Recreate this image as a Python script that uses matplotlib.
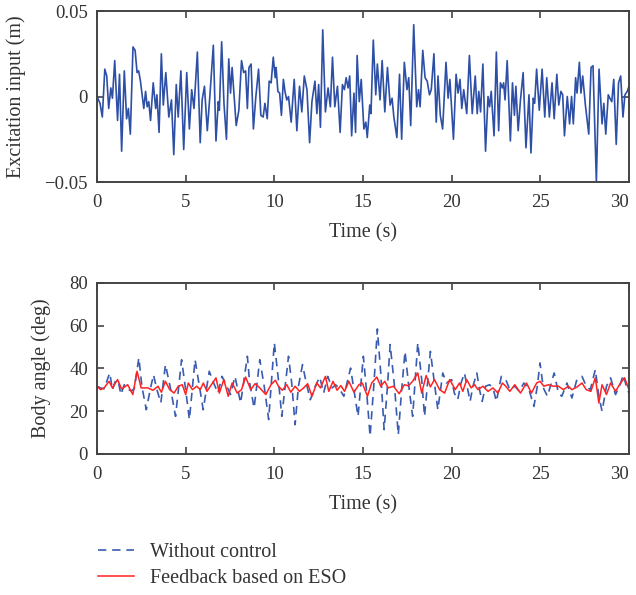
import numpy as np
import matplotlib
matplotlib.use('Agg')
import matplotlib.pyplot as plt

# excitation input (time s, displacement m)
exc_t = [0, 0.17, 0.3, 0.44, 0.55, 0.66, 0.78, 0.87, 1.0, 1.16, 1.27, 1.39, 1.54, 1.67, 1.77, 1.88,
         2.03, 2.15, 2.26, 2.35, 2.45, 2.64, 2.74, 2.83, 2.92, 3.02, 3.17, 3.31, 3.38, 3.5, 3.63, 3.74,
         3.88, 4.05, 4.2, 4.33, 4.47, 4.58, 4.73, 4.89, 5.06, 5.21, 5.34, 5.47, 5.66, 5.82, 5.93, 6.06,
         6.22, 6.37, 6.56, 6.71, 6.84, 6.9, 7.03, 7.16, 7.3, 7.43, 7.53, 7.62, 7.85, 8.0, 8.15, 8.27,
         8.38, 8.48, 8.57, 8.69, 8.82, 8.95, 9.11, 9.24, 9.37, 9.47, 9.6, 9.71, 9.82, 9.94, 10.05,
         10.1, 10.2, 10.3, 10.4, 10.51, 10.6, 10.7, 10.8, 10.95, 11.12, 11.27, 11.42, 11.55, 11.69,
         11.84, 11.99, 12.12, 12.29, 12.4, 12.5, 12.6, 12.73, 12.88, 13.03, 13.16, 13.28, 13.41, 13.56,
         13.71, 13.84, 13.95, 14.05, 14.16, 14.25, 14.36, 14.49, 14.58, 14.67, 14.79, 14.9, 15.05, 15.16,
         15.24, 15.38, 15.45, 15.58, 15.72, 15.81, 15.96, 16.08, 16.23, 16.38, 16.53, 16.64, 16.74,
         16.91, 17.06, 17.18, 17.33, 17.48, 17.58, 17.69, 17.86, 18.03, 18.13, 18.22, 18.37, 18.5,
         18.62, 18.75, 18.85, 19.0, 19.13, 19.23, 19.36, 19.49, 19.68, 19.8, 19.9, 20.1, 20.25, 20.36,
         20.47, 20.57, 20.68, 20.85, 21.0, 21.16, 21.33, 21.44, 21.53, 21.63, 21.76, 21.91, 22.05,
         22.14, 22.23, 22.39, 22.52, 22.65, 22.75, 22.86, 22.93, 23.01, 23.13, 23.31, 23.43, 23.54,
         23.62, 23.75, 23.88, 24.03, 24.19, 24.36, 24.47, 24.6, 24.68, 24.79, 24.94, 25.1, 25.25,
         25.36, 25.51, 25.66, 25.78, 25.93, 26.04, 26.16, 26.26, 26.36, 26.52, 26.65, 26.76, 26.86,
         26.99, 27.07, 27.2, 27.29, 27.39, 27.54, 27.73, 27.86, 27.97, 28.16, 28.31, 28.48, 28.58,
         28.69, 28.83, 28.92, 29.03, 29.14, 29.28, 29.41, 29.53, 29.66, 29.77, 29.9, 30.0]
exc_y = [0.0, -0.004, -0.012, 0.016, 0.012, -0.007, 0.005, -0.001, 0.021, -0.014, 0.013, -0.032,
         0.015, -0.013, -0.007, -0.022, 0.029, 0.027, 0.014, 0.015, 0.009, -0.007, 0.003, -0.006,
         -0.003, -0.014, 0.008, -0.007, 0.001, -0.021, 0.025, -0.005, 0.014, -0.012, -0.002, -0.034,
         0.007, -0.012, 0.015, -0.031, 0.014, -0.019, 0.004, -0.007, 0.026, -0.027, -0.002, 0.006,
         -0.02, 0.001, 0.03, -0.026, -0.003, -0.008, 0.032, -0.004, -0.025, 0.022, 0.002, 0.017,
         -0.017, -0.008, 0.021, 0.014, 0.015, -0.007, 0.017, 0.019, -0.019, -0.001, 0.016, -0.011,
         -0.012, -0.004, -0.013, 0.009, 0.008, 0.023, 0.011,
         0.017, 0.003, 0.002, -0.011, 0.01, 0.003, -0.002, 0.0, -0.015, 0.01, -0.02, 0.006, -0.009,
         0.012, 0.004, -0.027, -0.003, 0.009, -0.01, 0.007, -0.018, 0.039, -0.009, 0.005, -0.006,
         0.023, -0.006, 0.006, -0.021, 0.007, 0.004, 0.011, 0.005, 0.012, -0.023, 0.002, -0.021,
         0.024, -0.003, 0.01, -0.019, -0.015, -0.024, -0.005, -0.01, 0.033, 0.001, 0.019, -0.002,
         0.021, -0.009, 0.017, -0.005, -0.001, -0.012, -0.024, 0.013, -0.025, 0.02, 0.004, 0.011,
         -0.017, 0.042, -0.006, 0.004, -0.006, 0.027, 0.011, 0.009, 0.001, 0.004, 0.025, -0.015,
         0.012, -0.011, -0.019, 0.02, -0.001, 0.01, -0.025, 0.013, 0.002, 0.01, -0.007, 0.004, -0.01,
         0.024, -0.01, 0.012, -0.01, 0.003, -0.009, 0.019, -0.032, 0.0, -0.006, 0.003, -0.023, 0.026,
         -0.02, 0.008, 0.005, 0.008, -0.002, 0.021, -0.026, 0.008, -0.011, 0.006, -0.02, -0.002,
         0.014, -0.03, 0.001, -0.033, -0.001, -0.004, 0.016, -0.008, 0.016, -0.012, 0.011, -0.012,
         0.008, -0.013, 0.013, -0.005, 0.003, 0.001, -0.023, 0.0, -0.016, 0.0, -0.016, 0.011, 0.002,
         0.02, 0.002, 0.012, -0.005, -0.022, 0.017, 0.018, -0.05, 0.016, -0.016, -0.004, -0.022,
         0.001, -0.001, -0.003, 0.01, -0.028, 0.008, 0.012, -0.012, 0.001, 0.003, 0.006]

# body angle without control (deg)
nc_t = [0, 0.2, 0.4, 0.72, 0.87, 1.05, 1.2, 1.35, 1.54, 1.75, 1.93, 2.1, 2.36, 2.53, 2.78, 3.02,
        3.19, 3.35, 3.6, 3.86, 4.16, 4.43, 4.77, 5.0, 5.21, 5.53, 5.76, 5.99, 6.33, 6.58, 6.82, 7.05,
        7.28, 7.53, 7.78, 8.1, 8.48, 8.61, 8.86, 9.18, 9.43, 9.68, 10.0, 10.23, 10.42, 10.61, 10.8,
        10.98, 11.17, 11.36, 11.59, 11.8, 12.03, 12.31, 12.56, 12.78, 13.01, 13.26, 13.45, 13.64,
        13.92, 14.3, 14.49, 14.72, 15.02, 15.21, 15.4, 15.62, 15.81, 16.0, 16.19, 16.38, 16.53,
        16.76, 16.99, 17.18, 17.37, 17.56, 17.8, 18.09, 18.31, 18.47, 18.8, 19.03, 19.22, 19.5,
        19.7, 20.0, 20.15, 20.34, 20.53, 20.72, 20.91, 21.04, 21.2, 21.42, 21.57, 21.72, 21.91,
        22.14, 22.33, 22.52, 22.8, 23.05, 23.28, 23.56, 23.81, 24.07, 24.33, 24.64, 24.83, 24.98,
        25.17, 25.4, 25.78, 26.02, 26.21, 26.5, 26.78, 27.06, 27.35, 27.59, 27.82, 28.1, 28.3,
        28.48, 28.73, 28.96, 29.24, 29.5, 29.68, 29.9, 30.0]
nc_y = [31.7, 30.9, 30.5, 37.9, 30.0, 34.5, 34.0, 27.8, 32.4, 30.3, 29.5, 30.5, 45.0, 31.7,
        20.7, 30.9, 37.1, 30.9, 23.9, 41.8, 30.1, 17.6, 44.1, 30.1, 16.1, 44.1, 32.4, 20.7, 38.7,
        33.2, 28.5, 36.3, 32.4, 27.8, 36.3, 23.9, 45.7, 33.2, 21.5, 44.1, 31.7, 16.1, 52.0, 34.8,
        17.6, 31.7, 45.7, 33.2, 13.7, 31.7, 41.8, 33.2, 25.4, 31.7, 36.0, 28.5, 36.3, 30.9, 32.4,
        30.9, 27.0, 40.2, 30.1, 17.6, 45.7, 28.5, 8.3, 33.2, 58.5, 37.9, 11.4, 31.7, 51.2, 33.2,
        9.0, 30.1, 48.0, 33.2, 17.6, 52.0, 34.8, 17.6, 48.0, 33.2, 20.7, 37.9, 33.2, 34.8, 28.5,
        25.4, 33.2, 37.9, 30.1, 24.6, 31.7, 37.9, 30.1, 24.6, 31.7, 32.4, 30.9, 24.6, 36.3, 34.8,
        30.1, 31.7, 29.3, 33.2, 30.9, 22.3, 31.7, 42.6, 30.9, 27.0, 37.9, 28.5, 27.0, 33.2, 26.2,
        34.8, 36.3, 31.7, 30.1, 39.5, 27.0, 20.0, 31.7, 35.6, 27.8, 32.4, 37.1, 30.1, 28.5]

# body angle with ESO based feedback (deg)
fb_t = [0, 0.2, 0.4, 0.68, 0.87, 1.16, 1.39, 1.73, 2.02, 2.26, 2.49, 2.87, 3.16, 3.44, 3.63, 3.86,
        4.1, 4.35, 4.58, 4.81, 5.0, 5.15, 5.38, 5.63, 5.82, 6.0, 6.2, 6.45, 6.71, 6.9, 7.15, 7.4,
        7.62, 7.91, 8.15, 8.38, 8.67, 8.92, 9.18, 9.52, 9.81, 10.06, 10.23, 10.45, 10.7, 10.93,
        11.17, 11.42, 11.65, 11.88, 12.12, 12.4, 12.6, 12.88, 13.07, 13.31, 13.54, 13.75, 13.96,
        14.2, 14.49, 14.77, 14.96, 15.25, 15.49, 15.78, 16.0, 16.23, 16.42, 16.72, 17.04, 17.33,
        17.56, 17.8, 18.09, 18.31, 18.56, 18.8, 19.03, 19.32, 19.6, 19.89, 20.2, 20.44, 20.63,
        20.85, 21.1, 21.3, 21.48, 21.76, 22.05, 22.33, 22.61, 22.86, 23.05, 23.28, 23.56, 23.88,
        24.22, 24.5, 24.79, 24.98, 25.2, 25.45, 25.73, 26.02, 26.3, 26.58, 26.78, 27.06, 27.35,
        27.59, 27.85, 28.1, 28.3, 28.48, 28.73, 28.96, 29.24, 29.52, 29.75, 30.0]
fb_y = [31.7, 30.1, 30.9, 34.0, 30.9, 34.8, 30.4, 32.4, 27.8, 38.7, 30.9, 30.9, 29.8, 31.7,
        28.9, 34.0, 30.1, 28.5, 31.7, 32.4, 27.8, 33.2, 30.1, 31.7, 30.1, 33.2, 29.3, 32.4, 35.6,
        28.5, 34.8, 27.0, 33.2, 28.5, 30.1, 36.0, 30.1, 32.9, 30.9, 27.8, 32.4, 34.5, 31.7, 29.8,
        32.4, 28.9, 31.7, 29.3, 30.9, 32.9, 27.0, 33.2, 30.9, 36.3, 29.3, 34.0, 29.8, 32.0, 29.3,
        34.0, 28.9, 32.4, 33.2, 27.0, 33.2, 36.0, 31.7, 34.0, 30.9, 31.7, 28.2, 32.4, 31.9, 34.0,
        37.9, 28.5, 36.7, 31.4, 34.8, 30.1, 28.5, 34.8, 30.1, 33.2, 29.3, 34.8, 30.9, 32.4, 30.1,
        31.7, 29.3, 30.9, 28.5, 33.2, 31.7, 29.3, 32.4, 28.5, 33.2, 28.5, 33.2, 34.0, 31.7, 32.4,
        31.7, 31.7, 30.1, 31.7, 30.1, 31.3, 33.2, 30.1, 29.3, 35.6, 23.9, 32.4, 27.8, 33.2, 29.3,
        33.2, 35.6, 30.1]

plt.rcParams['font.family'] = ['Liberation Serif', 'DejaVu Serif']
txt = '#333333'
frame = '#444444'

fig = plt.figure(figsize=(6.36, 5.95), dpi=100)
ax1 = fig.add_axes([0.1525, 0.6941, 0.8365, 0.2874])
ax2 = fig.add_axes([0.1525, 0.2370, 0.8365, 0.2874])

ax1.plot(exc_t, exc_y, color='#2d4fa6', lw=1.2)
ax1.set_xlim(0, 30)
ax1.set_ylim(-0.05, 0.05)
ax1.set_xticks([0, 5, 10, 15, 20, 25, 30])
ax1.set_yticks([-0.05, 0, 0.05])
ax1.set_yticklabels(['\u22120.05', '0', '0.05'])
ax1.set_xlabel('Time (s)', color=txt, fontsize=14.5, labelpad=9)
ax1.set_ylabel('Excitation input (m)', color=txt, fontsize=14.5, labelpad=13)

ax2.plot(nc_t, nc_y, color='#3a5cb0', lw=1.2, ls=(0, (5, 3.5)), label='Without control')
ax2.plot(fb_t, fb_y, color='#ff2222', lw=1.1, label='Feedback based on ESO')
ax2.set_xlim(0, 30)
ax2.set_ylim(0, 80)
ax2.set_xticks([0, 5, 10, 15, 20, 25, 30])
ax2.set_yticks([0, 20, 40, 60, 80])
ax2.set_xlabel('Time (s)', color=txt, fontsize=14.5, labelpad=9)
ax2.set_ylabel('Body angle (deg)', color=txt, fontsize=14.5, labelpad=13)

for ax in (ax1, ax2):
    ax.tick_params(direction='in', top=True, right=True, length=5, width=1.2, pad=6.5,
                   colors=frame, labelcolor=txt, labelsize=13.5)
    ax.tick_params(axis='x', pad=8.5)
    # keep the last x tick label inside the figure edge
    ax.get_xticklabels()[-1].set_horizontalalignment('right')
    ax.get_xticklabels()[-1].set_x(30)
    for s in ax.spines.values():
        s.set_color(frame)
        s.set_linewidth(1.4)

fig.legend(loc='upper left', bbox_to_anchor=(0.125, 0.118), frameon=False,
           handlelength=1.8, handletextpad=0.8, labelcolor=txt, fontsize=14.5,
           labelspacing=0.35)

fig.savefig('out.png', dpi=100)
